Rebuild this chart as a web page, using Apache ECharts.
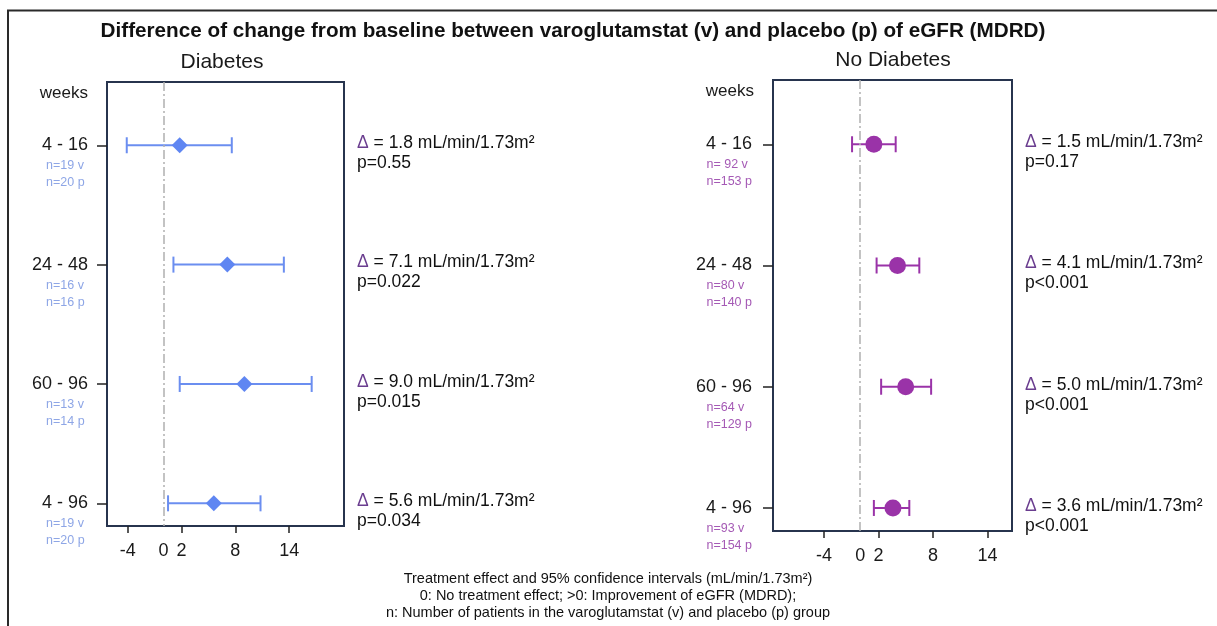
<!DOCTYPE html>
<html>
<head>
<meta charset="utf-8">
<script src="https://cdn.jsdelivr.net/npm/echarts@6/dist/echarts.min.js"></script>
<style>
  html, body { margin: 0; padding: 0; background: #fff; }
  #chart { width: 1217px; height: 626px; }
</style>
</head>
<body>
<div id="chart"></div>
<script>
// ---- data ----
const rows = ['4 - 16', '24 - 48', '60 - 96', '4 - 96'];
const xTickLabels = [-4, 0, 2, 8, 14];
const xTickMarks = [-4, 2, 8, 14];

const diabMean = [1.8, 7.1, 9.0, 5.6];
const diabLow = [-4.1, 1.1, 1.8, 0.5];
const diabHigh = [7.6, 13.4, 16.5, 10.8];
const diabP = ['p=0.55', 'p=0.022', 'p=0.015', 'p=0.034'];
const diabNv = ['n=19 v', 'n=16 v', 'n=13 v', 'n=19 v'];
const diabNp = ['n=20 p', 'n=16 p', 'n=14 p', 'n=20 p'];

const noDiabMean = [1.5, 4.1, 5.0, 3.6];
const noDiabLow = [-0.9, 1.8, 2.3, 1.5];
const noDiabHigh = [3.9, 6.5, 7.8, 5.4];
const noDiabP = ['p=0.17', 'p<0.001', 'p<0.001', 'p<0.001'];
const noDiabNv = ['n= 92 v', 'n=80 v', 'n=64 v', 'n=93 v'];
const noDiabNp = ['n=153 p', 'n=140 p', 'n=129 p', 'n=154 p'];

const FONT = '"Liberation Sans", Arial, Helvetica, sans-serif';
const BLUE = '#6b8ef0';
const BLUE_N = '#8ea6e6';
const PURPLE = '#9a33a8';
const PURPLE_N = '#a55ab5';
const DELTA = '#6a3d8f';
const BOX = '#27344e';

const chart = echarts.init(document.getElementById('chart'));

function yAxisFor(gridIndex, nv, np, nColor, margin, pad) {
  return {
    type: 'value', gridIndex, inverse: true, min: -0.53, max: 3.19,
    splitLine: { show: false },
    axisLine: { show: false, onZero: false },
    axisTick: { show: true, length: 10, customValues: [0, 1, 2, 3], lineStyle: { color: '#222', width: 1.5 } },
    axisLabel: {
      customValues: [0, 1, 2, 3], margin,
      formatter: v => `{sp| }\n{a|${rows[v]}}\n{n|${nv[v]}}\n{n|${np[v]}}`,
      rich: {
        sp: { lineHeight: 34, fontSize: 2 },
        a: { fontSize: 18, lineHeight: 24, width: 70, align: 'right', color: '#1a1a1a', fontFamily: FONT },
        n: { fontSize: 12.5, lineHeight: 17, align: 'left', color: nColor, padding: [0, 0, 0, pad], fontFamily: FONT }
      }
    }
  };
}

function xAxisFor(gridIndex, min, max) {
  return {
    type: 'value', gridIndex, min, max,
    splitLine: { show: false },
    axisLine: { show: false, onZero: false },
    axisTick: { show: true, length: 7, customValues: xTickMarks, lineStyle: { color: '#222', width: 1.5 } },
    axisLabel: { customValues: xTickLabels, margin: 16, fontSize: 18, color: '#1a1a1a', fontFamily: FONT }
  };
}

function ciSeries(idx, mean, low, high, pvals, color) {
  return {
    type: 'custom', xAxisIndex: idx, yAxisIndex: idx, z: 3,
    data: mean.map((m, i) => [i, m, low[i], high[i]]),
    encode: { x: [1, 2, 3], y: 0 },
    renderItem: (params, api) => {
      const row = api.value(0);
      const m = api.value(1);
      const pl = api.coord([api.value(2), row]);
      const ph = api.coord([api.value(3), row]);
      const cs = params.coordSys;
      const cap = 8;
      const ls = { stroke: color, lineWidth: 2 };
      const i = params.dataIndex;
      return {
        type: 'group',
        children: [
          { type: 'line', shape: { x1: pl[0], y1: pl[1], x2: ph[0], y2: ph[1] }, style: ls },
          { type: 'line', shape: { x1: pl[0], y1: pl[1] - cap, x2: pl[0], y2: pl[1] + cap }, style: ls },
          { type: 'line', shape: { x1: ph[0], y1: ph[1] - cap, x2: ph[0], y2: ph[1] + cap }, style: ls },
          {
            type: 'text',
            style: {
              x: cs.x + cs.width + 13, y: pl[1] - 12,
              text: `{d|Δ} = ${m.toFixed(1)} mL/min/1.73m²\n${pvals[i]}`,
              verticalAlign: 'top', align: 'left',
              fill: '#111', fontSize: 17.5, fontFamily: FONT, lineHeight: 20,
              rich: { d: { fill: DELTA, fontSize: 17.5, fontFamily: FONT, lineHeight: 20 } }
            }
          }
        ]
      };
    }
  };
}

function pointSeries(idx, mean, symbol, size, color) {
  return {
    type: 'scatter', xAxisIndex: idx, yAxisIndex: idx, z: 4,
    symbol, symbolSize: size,
    itemStyle: { color, opacity: 1 },
    data: mean.map((m, i) => [m, i]),
    markLine: {
      silent: true, symbol: 'none', label: { show: false },
      lineStyle: { color: '#b0b0b0', width: 1.5, type: [9, 3, 2, 3] },
      data: [{ xAxis: 0 }]
    }
  };
}

const option = {
  animation: false,
  backgroundColor: '#fff',
  textStyle: { fontFamily: FONT },
  grid: [
    { left: 107, top: 82, width: 237, height: 444, show: true, borderColor: BOX, borderWidth: 2, backgroundColor: 'transparent' },
    { left: 773, top: 80, width: 239, height: 451, show: true, borderColor: BOX, borderWidth: 2, backgroundColor: 'transparent' }
  ],
  xAxis: [xAxisFor(0, -6.3, 20.1), xAxisFor(1, -9.6, 16.7)],
  yAxis: [
    yAxisFor(0, diabNv, diabNp, BLUE_N, 19, 28),
    yAxisFor(1, noDiabNv, noDiabNp, PURPLE_N, 21, 30)
  ],
  series: [
    ciSeries(0, diabMean, diabLow, diabHigh, diabP, BLUE),
    pointSeries(0, diabMean, 'diamond', 16, '#5f86f2'),
    ciSeries(1, noDiabMean, noDiabLow, noDiabHigh, noDiabP, PURPLE),
    pointSeries(1, noDiabMean, 'circle', 17, PURPLE)
  ],
  graphic: [
    { type: 'line', shape: { x1: 7, y1: 10.5, x2: 1217, y2: 10.5 }, style: { stroke: '#2a2a2a', lineWidth: 2 } },
    { type: 'line', shape: { x1: 8, y1: 10, x2: 8, y2: 626 }, style: { stroke: '#2a2a2a', lineWidth: 2 } },
    { type: 'text', x: 573, y: 31, style: { text: 'Difference of change from baseline between varoglutamstat (v) and placebo (p) of eGFR (MDRD)', align: 'center', verticalAlign: 'middle', fontSize: 20.7, fontWeight: 'bold', fontFamily: FONT, fill: '#111' } },
    { type: 'text', x: 222, y: 62, style: { text: 'Diabetes', align: 'center', verticalAlign: 'middle', fontSize: 21, fontFamily: FONT, fill: '#1a1a1a' } },
    { type: 'text', x: 893, y: 60, style: { text: 'No Diabetes', align: 'center', verticalAlign: 'middle', fontSize: 21, fontFamily: FONT, fill: '#1a1a1a' } },
    { type: 'text', x: 88, y: 93, style: { text: 'weeks', align: 'right', verticalAlign: 'middle', fontSize: 17, fontFamily: FONT, fill: '#1a1a1a' } },
    { type: 'text', x: 754, y: 91, style: { text: 'weeks', align: 'right', verticalAlign: 'middle', fontSize: 17, fontFamily: FONT, fill: '#1a1a1a' } },
    { type: 'text', x: 608, y: 570, style: { text: 'Treatment effect and 95% confidence intervals (mL/min/1.73m²)\n0: No treatment effect; >0: Improvement of eGFR (MDRD);\nn: Number of patients in the varoglutamstat (v) and placebo (p) group', align: 'center', verticalAlign: 'top', fontSize: 14.5, lineHeight: 17, fontFamily: FONT, fill: '#111' } }
  ]
};
chart.setOption(option);
</script>
</body>
</html>
